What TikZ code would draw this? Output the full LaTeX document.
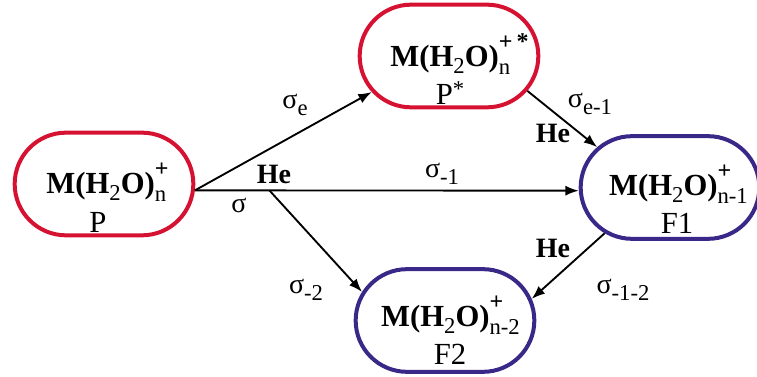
\documentclass[tikz,border=0pt]{standalone}
\usepackage{fontspec}
\setmainfont{Liberation Serif}
\usetikzlibrary{arrows.meta}
\usetikzlibrary{shapes.misc}
\definecolor{pred}{RGB}{214,18,50}
\definecolor{fblue}{RGB}{58,40,136}
% raised and lowered indices
\newcommand{\lo}[1]{\raisebox{-5pt}{\fontsize{17}{17}\selectfont\mdseries #1}}
\newcommand{\hi}[1]{\raisebox{13pt}{\fontsize{18}{18}\selectfont\bfseries #1}}
\newcommand{\supsub}[2]{\setbox0=\hbox{\hi{#1}}\setbox2=\hbox{\raisebox{-1pt}{\lo{#2}}}%
  \ifdim\wd0>\wd2 \rlap{\box2}\box0\else\rlap{\box0}\box2\fi}
\newcommand{\mol}[2]{{\bfseries M(H\lo{2}O)\supsub{#2}{#1}}}

\begin{document}
\begin{tikzpicture}[x=0.75pt,y=-0.75pt,
  molbox/.style={rounded rectangle, draw=#1, line width=3pt, minimum width=134pt, minimum height=77pt, inner sep=0pt},
  lbl/.style={anchor=base, inner sep=1pt, font=\fontsize{21}{24}\selectfont},
  boxname/.style={anchor=base, inner sep=1pt, font=\fontsize{23}{26}\selectfont},
  form/.style={anchor=base, inner sep=1pt, font=\fontsize{23}{26}\selectfont},
  arr/.style={-{Latex[length=10pt,width=7.5pt]}, line width=1.4pt}]
\path[use as bounding box] (0,0) rectangle (757,377);

\node[molbox=pred] (P) at (104,184) {};
\node[molbox=pred] (Ps) at (449,56) {};
\node[molbox=fblue] (F1) at (670,187.5) {};
\node[molbox=fblue] (F2) at (445,320.5) {};

\node[form] (Pf) at (107.5,194) {\mol{n}{+}};
\node[boxname] (Pl) at (98,233) {P};
\node[form] (Psf) at (459.5,67) {\mol{n}{+\,*}};
\node[boxname] (Psl) at (450,105) {P\raisebox{6pt}{\fontsize{17}{17}\selectfont *}};
\node[form] (F1f) at (678.5,196) {\mol{n-1}{+}};
\node[boxname] (F1l) at (677,234) {F1};
\node[form] (F2f) at (450.5,327) {\mol{n-2}{+}};
\node[boxname] (F2l) at (450,365) {F2};

\draw[arr] (P.-4) -- (Ps.205);
\draw[arr] (P.-4) -- coordinate[pos=0.194] (hub) (F1.182);
\draw[arr] (hub) -- (F2.161);
\draw[arr] (Ps.-24) -- (F1.151);
\draw[arr] (F1.215) -- (F2.14);

\node[lbl] (se) at (295,109) {σ\lo{e}};
\node[lbl] (s) at (239,213) {σ};
\node[lbl] (sm1) at (442,178) {σ\lo{-1}};
\node[lbl] (sm2) at (306,294) {σ\lo{-2}};
\node[lbl] (sem1) at (590,108) {σ\lo{e-1}};
\node[lbl] (sm12) at (623,294) {σ\lo{-1-2}};
\foreach \x/\y/\n in {274/184/a, 553/143/b, 553/258/c}{
  \node[lbl] (he\n) at (\x,\y) {\bfseries He};
}
\end{tikzpicture}
\end{document}
